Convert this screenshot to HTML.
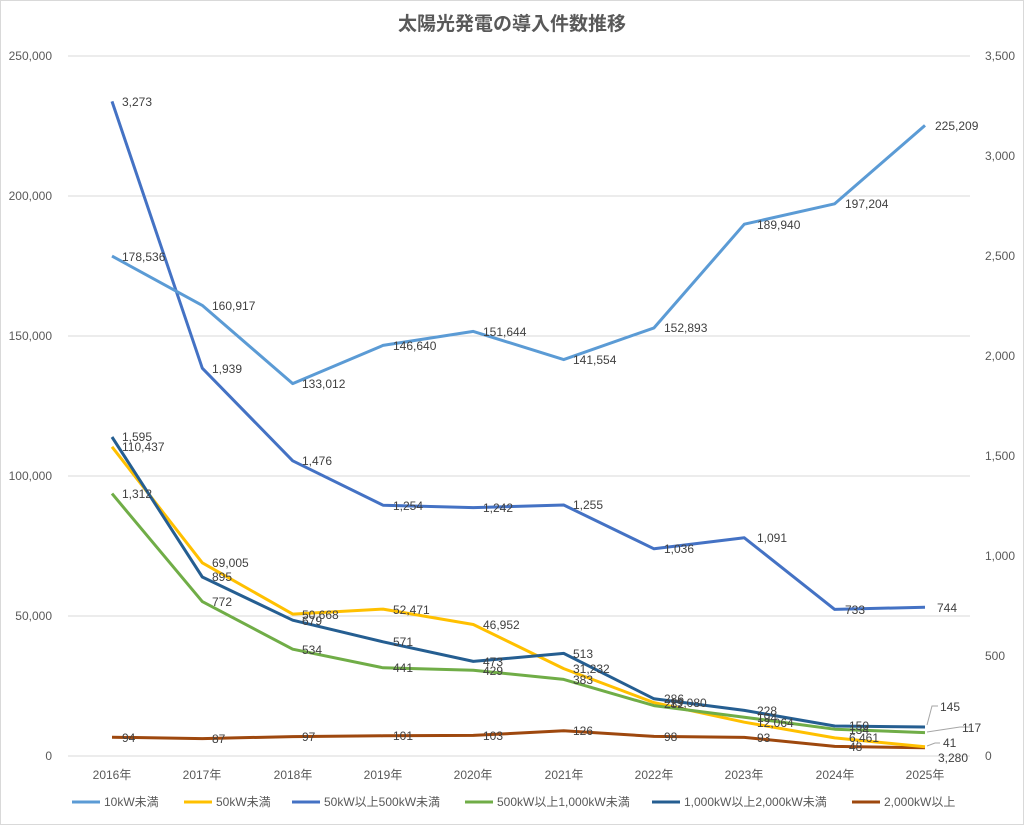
<!DOCTYPE html>
<html><head><meta charset="utf-8"><style>
body{margin:0;background:#fff;}
svg{display:block;font-family:"Liberation Sans","Noto Sans CJK JP",sans-serif;}
</style></head><body>
<svg width="1024" height="825" viewBox="0 0 1024 825">
<rect x="0.5" y="0.5" width="1023" height="824" fill="#fff" stroke="#d9d9d9"/>
<text x="512" y="30" text-anchor="middle" font-size="19" font-weight="bold" fill="#595959">太陽光発電の導入件数推移</text>
<g stroke="#d9d9d9" stroke-width="1">
<line x1="68" y1="56" x2="970" y2="56"/><line x1="68" y1="196" x2="970" y2="196"/><line x1="68" y1="336" x2="970" y2="336"/><line x1="68" y1="476" x2="970" y2="476"/><line x1="68" y1="616" x2="970" y2="616"/><line x1="68" y1="756" x2="970" y2="756"/>
</g>
<g font-size="12" fill="#595959" text-anchor="end">
<text x="52" y="60">250,000</text><text x="52" y="200">200,000</text><text x="52" y="340">150,000</text><text x="52" y="480">100,000</text><text x="52" y="620">50,000</text><text x="52" y="760">0</text>
</g>
<g font-size="12" fill="#595959" text-anchor="start">
<text x="985" y="60">3,500</text><text x="985" y="160">3,000</text><text x="985" y="260">2,500</text><text x="985" y="360">2,000</text><text x="985" y="460">1,500</text><text x="985" y="560">1,000</text><text x="985" y="660">500</text><text x="985" y="760">0</text>
</g>
<g font-size="12" fill="#595959" text-anchor="middle">
<text x="112" y="779">2016年</text><text x="202" y="779">2017年</text><text x="293" y="779">2018年</text><text x="383" y="779">2019年</text><text x="473" y="779">2020年</text><text x="564" y="779">2021年</text><text x="654" y="779">2022年</text><text x="744" y="779">2023年</text><text x="835" y="779">2024年</text><text x="925" y="779">2025年</text>
</g>
<g fill="none" stroke-width="3" stroke-linejoin="round">
<polyline stroke="#9E480E" points="112,737.2 202.3,738.6 292.7,736.6 383,735.8 473.3,735.4 563.7,730.8 654,736.4 744.3,737.4 834.7,746.4 925,747.8"/>
<polyline stroke="#FFC000" points="112,446.8 202.3,562.8 292.7,614.1 383,609.1 473.3,624.5 563.7,668.6 654,702.6 744.3,722.2 834.7,737.9 925,746.8"/>
<polyline stroke="#70AD47" points="112,493.6 202.3,601.6 292.7,649.2 383,667.8 473.3,670.2 563.7,679.4 654,705.6 744.3,717.2 834.7,729.2 925,732.6"/>
<polyline stroke="#255E91" points="112,437 202.3,577 292.7,620.2 383,641.8 473.3,661.4 563.7,653.4 654,698.8 744.3,710.4 834.7,726 925,727"/>
<polyline stroke="#4472C4" points="112,101.4 202.3,368.2 292.7,460.8 383,505.2 473.3,507.6 563.7,505 654,548.8 744.3,537.8 834.7,609.4 925,607.2"/>
<polyline stroke="#5B9BD5" points="112,256.1 202.3,305.4 292.7,383.6 383,345.4 473.3,331.4 563.7,359.6 654,327.9 744.3,224.2 834.7,203.8 925,125.4"/>
</g>
<g stroke="#a6a6a6" fill="none" stroke-width="1">
<polyline points="927,725 932,706 938,706"/>
<polyline points="927,732 960,727 970,727"/>
<polyline points="927,746 935,743 940,743"/>
</g>
<g font-size="12" fill="#404040">
<text x="122" y="106">3,273</text><text x="122" y="261">178,536</text><text x="212" y="310">160,917</text><text x="302" y="388">133,012</text><text x="393" y="350">146,640</text><text x="483" y="336">151,644</text><text x="573" y="364">141,554</text><text x="664" y="332">152,893</text><text x="757" y="229">189,940</text><text x="845" y="208">197,204</text><text x="935" y="130">225,209</text>
<text x="212" y="373">1,939</text><text x="302" y="465">1,476</text><text x="393" y="510">1,254</text><text x="483" y="512">1,242</text><text x="573" y="509">1,255</text><text x="664" y="553">1,036</text><text x="757" y="542">1,091</text><text x="845" y="614">733</text><text x="937" y="612">744</text>
<text x="122" y="441">1,595</text><text x="122" y="451">110,437</text><text x="122" y="498">1,312</text>
<text x="212" y="567">69,005</text><text x="212" y="581">895</text><text x="212" y="606">772</text>
<text x="302" y="619">50,668</text><text x="302" y="625">679</text><text x="302" y="654">534</text>
<text x="393" y="614">52,471</text><text x="393" y="646">571</text><text x="393" y="672">441</text>
<text x="483" y="629">46,952</text><text x="483" y="666">473</text><text x="483" y="675">429</text>
<text x="573" y="658">513</text><text x="573" y="673">31,232</text><text x="573" y="684">383</text>
<text x="664" y="703">286</text><text x="664" y="708">282</text><text x="670" y="707">19,080</text>
<text x="757" y="715">228</text><text x="757" y="722">194</text><text x="757" y="727">12,064</text>
<text x="849" y="730">150</text><text x="849" y="734">134</text><text x="849" y="742">6,461</text><text x="849" y="751">48</text>
<text x="940" y="711">145</text><text x="962" y="732">117</text><text x="943" y="747">41</text><text x="938" y="762">3,280</text>
<text x="122" y="742">94</text><text x="212" y="743">87</text><text x="302" y="741">97</text><text x="393" y="740">101</text><text x="483" y="740">103</text><text x="573" y="735">126</text><text x="664" y="741">98</text><text x="757" y="742">93</text>
</g>
<g font-size="12" fill="#595959">
<line x1="72" y1="802" x2="100" y2="802" stroke="#5B9BD5" stroke-width="3"/><text x="104" y="806">10kW未満</text>
<line x1="184" y1="802" x2="212" y2="802" stroke="#FFC000" stroke-width="3"/><text x="216" y="806">50kW未満</text>
<line x1="292" y1="802" x2="320" y2="802" stroke="#4472C4" stroke-width="3"/><text x="324" y="806">50kW以上500kW未満</text>
<line x1="465" y1="802" x2="493" y2="802" stroke="#70AD47" stroke-width="3"/><text x="497" y="806">500kW以上1,000kW未満</text>
<line x1="652" y1="802" x2="680" y2="802" stroke="#255E91" stroke-width="3"/><text x="684" y="806">1,000kW以上2,000kW未満</text>
<line x1="852" y1="802" x2="880" y2="802" stroke="#9E480E" stroke-width="3"/><text x="884" y="806">2,000kW以上</text>
</g>
</svg>
</body></html>
